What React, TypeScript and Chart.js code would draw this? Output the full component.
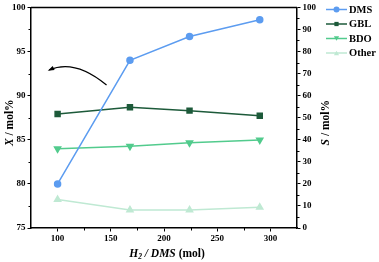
import React, { useEffect, useRef } from 'react';
import { Chart, registerables } from 'chart.js';

Chart.register(...registerables);

// ---- data ----
const ratios = [100, 168, 224, 290];
const dmsConversion = [80.0, 94.0, 96.7, 98.6];
const gblSelectivity = [51.7, 54.7, 53.2, 50.9];
const bdoSelectivity = [35.9, 37.1, 38.6, 39.9];
const otherSelectivity = [12.9, 8.2, 8.2, 9.4];

const seriesNames = ['DMS', 'GBL', 'BDO', 'Other'];
const seriesColors = ['#5c9cf0', '#1d5a3a', '#52cb8d', '#bfe9d3'];

const xTicks = [100, 150, 200, 250, 300];
const xMinor = [125, 175, 225, 275];
const leftTicks = [75, 80, 85, 90, 95, 100];
const leftMinor = [77.5, 82.5, 87.5, 92.5, 97.5];
const rightTicks = [0, 10, 20, 30, 40, 50, 60, 70, 80, 90, 100];
const rightMinor = [5, 15, 25, 35, 45, 55, 65, 75, 85, 95];

// arrow annotation (start, control, end) in data units (x, X mol%)
const arrowStart = [146, 91.2];
const arrowControl = [116, 94.2];
const arrowEnd = [92, 92.9];

const FONT = '"Liberation Serif", "Times New Roman", serif';

function drawMarker(ctx: CanvasRenderingContext2D, style: string, x: number, y: number, r: number, color: string) {
  ctx.save();
  ctx.fillStyle = color;
  ctx.strokeStyle = color;
  ctx.beginPath();
  if (style === 'circle') {
    ctx.arc(x, y, r, 0, Math.PI * 2);
  } else if (style === 'rect') {
    const s = r * Math.SQRT2 / 2;
    ctx.rect(x - s, y - s, 2 * s, 2 * s);
  } else if (style === 'tri-down') {
    const h = r * 1.5;
    ctx.moveTo(x - r * 0.87, y - h / 2);
    ctx.lineTo(x + r * 0.87, y - h / 2);
    ctx.lineTo(x, y + h / 2);
    ctx.closePath();
  } else {
    const h = r * 1.5;
    ctx.moveTo(x - r * 0.87, y + h / 2);
    ctx.lineTo(x + r * 0.87, y + h / 2);
    ctx.lineTo(x, y - h / 2);
    ctx.closePath();
  }
  ctx.fill();
  ctx.restore();
}

function drawSegments(ctx: CanvasRenderingContext2D, segs: { t: string; f: string; dy?: number }[], cx: number, cy: number) {
  let total = 0;
  for (const s of segs) {
    ctx.font = s.f;
    total += ctx.measureText(s.t).width;
  }
  let x = cx - total / 2;
  ctx.textBaseline = 'middle';
  ctx.textAlign = 'left';
  for (const s of segs) {
    ctx.font = s.f;
    ctx.fillText(s.t, x, cy + (s.dy || 0));
    x += ctx.measureText(s.t).width;
  }
}

const decorPlugin = {
  id: 'decor',
  afterDraw(chart: any) {
    const ctx: CanvasRenderingContext2D = chart.ctx;
    const { left, right, top, bottom } = chart.chartArea;
    const xs = chart.scales.x;
    const yl = chart.scales.y;
    const yr = chart.scales.y1;
    ctx.save();
    ctx.strokeStyle = '#000';
    ctx.fillStyle = '#000';
    // top frame
    ctx.lineWidth = 1.5;
    ctx.beginPath();
    ctx.moveTo(left, top);
    ctx.lineTo(right, top);
    ctx.stroke();
    // minor ticks
    ctx.lineWidth = 1;
    ctx.beginPath();
    for (const v of xMinor) {
      const p = Math.round(xs.getPixelForValue(v)) + 0.5;
      ctx.moveTo(p, bottom);
      ctx.lineTo(p, bottom + 2.5);
    }
    for (const v of leftMinor) {
      const p = Math.round(yl.getPixelForValue(v)) + 0.5;
      ctx.moveTo(left, p);
      ctx.lineTo(left - 2.5, p);
    }
    for (const v of rightMinor) {
      const p = Math.round(yr.getPixelForValue(v)) + 0.5;
      ctx.moveTo(right, p);
      ctx.lineTo(right + 2.5, p);
    }
    ctx.stroke();

    // arrow
    const p0 = [xs.getPixelForValue(arrowStart[0]), yl.getPixelForValue(arrowStart[1])];
    const pc = [xs.getPixelForValue(arrowControl[0]), yl.getPixelForValue(arrowControl[1])];
    const p2 = [xs.getPixelForValue(arrowEnd[0]), yl.getPixelForValue(arrowEnd[1])];
    ctx.lineWidth = 1.2;
    ctx.beginPath();
    ctx.moveTo(p0[0], p0[1]);
    ctx.quadraticCurveTo(pc[0], pc[1], p2[0], p2[1]);
    ctx.stroke();
    const ang = Math.atan2(p2[1] - pc[1], p2[0] - pc[0]);
    const hl = 5, hw = 2.3;
    ctx.beginPath();
    ctx.moveTo(p2[0] + Math.cos(ang) * 1.5, p2[1] + Math.sin(ang) * 1.5);
    ctx.lineTo(p2[0] - Math.cos(ang) * hl - Math.sin(ang) * hw, p2[1] - Math.sin(ang) * hl + Math.cos(ang) * hw);
    ctx.lineTo(p2[0] - Math.cos(ang) * hl + Math.sin(ang) * hw, p2[1] - Math.sin(ang) * hl - Math.cos(ang) * hw);
    ctx.closePath();
    ctx.fill();

    // axis titles
    const midY = (top + bottom) / 2 + 5;
    ctx.save();
    ctx.translate(10, midY);
    ctx.rotate(-Math.PI / 2);
    drawSegments(ctx, [
      { t: 'X', f: `italic bold 11.5px ${FONT}` },
      { t: ' / mol%', f: `bold 11.5px ${FONT}` },
    ], 0, 0);
    ctx.restore();
    ctx.save();
    ctx.translate(326, midY);
    ctx.rotate(-Math.PI / 2);
    drawSegments(ctx, [
      { t: 'S', f: `italic bold 11.5px ${FONT}` },
      { t: ' / mol%', f: `bold 11.5px ${FONT}` },
    ], 0, 0);
    ctx.restore();
    drawSegments(ctx, [
      { t: 'H', f: `italic bold 11.5px ${FONT}` },
      { t: '2', f: `italic bold 7.5px ${FONT}`, dy: 3 },
      { t: ' / DMS', f: `italic bold 11.5px ${FONT}` },
      { t: ' (mol)', f: `bold 11.5px ${FONT}` },
    ], (left + right) / 2 + 3, 254);

    // legend
    const styles = ['circle', 'rect', 'tri-down', 'tri-up'];
    const rowY = [9.5, 24, 38.5, 53];
    for (let i = 0; i < seriesNames.length; i++) {
      const y = rowY[i];
      ctx.strokeStyle = seriesColors[i];
      ctx.lineWidth = 1.5;
      ctx.beginPath();
      ctx.moveTo(326, y);
      ctx.lineTo(347, y);
      ctx.stroke();
      drawMarker(ctx, styles[i], 336.5, y, 3, seriesColors[i]);
      ctx.fillStyle = '#000';
      ctx.font = `bold 10.5px ${FONT}`;
      ctx.textAlign = 'left';
      ctx.textBaseline = 'middle';
      ctx.fillText(seriesNames[i], 349, y + 0.5);
    }
    ctx.restore();
  },
};

export default function App() {
  const ref = useRef<HTMLCanvasElement | null>(null);
  useEffect(() => {
    document.body.style.margin = '0';
    const canvas = ref.current!;
    const toPts = (vals: number[]) => vals.map((v, i) => ({ x: ratios[i], y: v }));
    const tickFont = { family: FONT, size: 9, weight: 'bold' as const };
    const chart = new Chart(canvas, {
      type: 'line',
      data: {
        datasets: [
          { label: seriesNames[0], data: toPts(dmsConversion), yAxisID: 'y', borderColor: seriesColors[0], backgroundColor: seriesColors[0], pointStyle: 'circle', pointRadius: 3, borderWidth: 1.5 },
          { label: seriesNames[1], data: toPts(gblSelectivity), yAxisID: 'y1', borderColor: seriesColors[1], backgroundColor: seriesColors[1], pointStyle: 'rect', pointRadius: 3.5, borderWidth: 1.5 },
          { label: seriesNames[2], data: toPts(bdoSelectivity), yAxisID: 'y1', borderColor: seriesColors[2], backgroundColor: seriesColors[2], pointStyle: 'triangle', rotation: 180, pointRadius: 3.5, borderWidth: 1.5 },
          { label: seriesNames[3], data: toPts(otherSelectivity), yAxisID: 'y1', borderColor: seriesColors[3], backgroundColor: seriesColors[3], pointStyle: 'triangle', pointRadius: 3.5, borderWidth: 1.5 },
        ],
      },
      options: {
        responsive: false,
        animation: false,
        devicePixelRatio: 1,
        layout: { padding: { top: 5, left: 0, right: 0, bottom: 0 } },
        plugins: { legend: { display: false }, tooltip: { enabled: false } },
        scales: {
          x: {
            type: 'linear',
            min: 75,
            max: 325,
            afterBuildTicks: (s: any) => { s.ticks = xTicks.map((v) => ({ value: v })); },
            afterFit: (s: any) => { s.height = 34; },
            ticks: { color: '#000', font: tickFont, padding: 2, maxRotation: 0 },
            grid: { display: true, drawOnChartArea: false, drawTicks: true, tickLength: 3.5, color: '#000', lineWidth: 1 },
            border: { display: true, color: '#000', width: 1.5 },
          },
          y: {
            type: 'linear',
            position: 'left',
            min: 75,
            max: 100,
            afterBuildTicks: (s: any) => { s.ticks = leftTicks.map((v) => ({ value: v })); },
            afterFit: (s: any) => { s.width = 31; },
            ticks: { color: '#000', font: tickFont, padding: 2 },
            grid: { display: true, drawOnChartArea: false, drawTicks: true, tickLength: 3.5, color: '#000', lineWidth: 1 },
            border: { display: true, color: '#000', width: 1.5 },
          },
          y1: {
            type: 'linear',
            position: 'right',
            min: 0,
            max: 100,
            afterBuildTicks: (s: any) => { s.ticks = rightTicks.map((v) => ({ value: v })); },
            afterFit: (s: any) => { s.width = 82; },
            ticks: { color: '#000', font: tickFont, padding: 2 },
            grid: { display: true, drawOnChartArea: false, drawTicks: true, tickLength: 3.5, color: '#000', lineWidth: 1 },
            border: { display: true, color: '#000', width: 1.5 },
          },
        },
      },
      plugins: [decorPlugin],
    } as any);
    return () => chart.destroy();
  }, []);
  return <canvas ref={ref} width={379} height={262} style={{ display: 'block', width: 379, height: 262 }} />;
}
